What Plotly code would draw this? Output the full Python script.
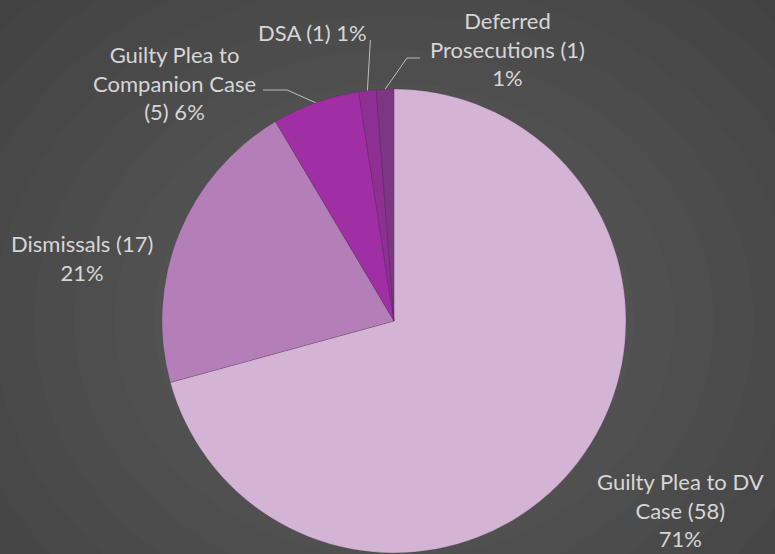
import math
import plotly.graph_objects as go

# ---- data ----
categories = ["Guilty Plea to DV Case", "Dismissals", "Guilty Plea to Companion Case",
              "DSA", "Deferred Prosecutions"]
counts = [58, 17, 5, 1, 1]
percent_labels = ["71%", "21%", "6%", "1%", "1%"]
label_texts = [
    "Guilty Plea to DV<br>Case (58)<br>71%",
    "Dismissals (17)<br>21%",
    "Guilty Plea to<br>Companion Case<br>(5) 6%",
    "DSA (1) 1%",
    "Deferred<br>Prosecutions (1)<br>1%",
]

# ---- styles / layout ----
W, H = 775, 554
colors = ["#d4b4d5", "#b47fb8", "#a02ea5", "#8e3093", "#7c3683"]
CX, CY, R = 394, 321, 232          # pie centre and radius in pixels
text_color = "#d6d6d6"
font_family = "Lato, 'Open Sans', sans-serif"
font_size = 22

def px(x, y):
    return x / W, 1 - y / H

x0, y_top = px(CX - R, CY - R)
x1, y_bot = px(CX + R, CY + R)

fig = go.Figure()
fig.add_trace(go.Pie(
    labels=categories, values=counts, sort=False, direction="clockwise",
    rotation=0, textinfo="none", hoverinfo="label+value+percent",
    marker=dict(colors=colors, line=dict(color="rgba(60,30,60,0.35)", width=0.6)),
    domain=dict(x=[x0, x1], y=[y_bot, y_top]), showlegend=False,
))

# edge points for each slice derived from data
total = sum(counts)
edges = []
cum = 0
for v in counts:
    mid = (cum + v / 2) / total
    cum += v
    ang = 2 * math.pi * mid
    edges.append((CX + R * math.sin(ang), CY - R * math.cos(ang)))

# label positions (pixels), and leader-line elbow points
label_pos = [(680, 510), (82, 258), (174, 83), (312, 32), (507, 49)]
leaders = {
    2: [(263, 90), (287, 90)],
    3: [(None, 40)],
    4: [(420, 58), (407, 58)],
}

shapes = []
# subtle radial background glow
for k in range(12):
    rr = 560 - k * 40
    shapes.append(dict(type="circle", xref="paper", yref="paper", layer="below",
                       x0=(CX - rr) / W, x1=(CX + rr) / W,
                       y0=1 - (CY + rr * 0.85) / H, y1=1 - (CY - rr * 0.85) / H,
                       fillcolor="rgba(255,255,255,0.012)", line=dict(width=0)))

for i, pts in leaders.items():
    ex, ey = edges[i]
    full = []
    for (lx, ly) in pts:
        full.append((ex + 3 if lx is None else lx, ly))
    full.append((ex, ey))
    path = "M " + " L ".join(f"{p[0]/W:.5f},{1 - p[1]/H:.5f}" for p in full)
    shapes.append(dict(type="path", xref="paper", yref="paper", path=path,
                       line=dict(color="#bdbdbd", width=1)))

annotations = []
for txt, (lx, ly) in zip(label_texts, label_pos):
    ax_, ay_ = px(lx, ly)
    annotations.append(dict(x=ax_, y=ay_, xref="paper", yref="paper", text=txt,
                            showarrow=False, xanchor="center", yanchor="middle",
                            align="center",
                            font=dict(color=text_color, size=font_size, family=font_family)))

fig.update_layout(
    width=W, height=H, margin=dict(l=0, r=0, t=0, b=0),
    paper_bgcolor="#404040", plot_bgcolor="#404040",
    shapes=shapes, annotations=annotations,
)
fig.write_html("out.html", config={"displayModeBar": False},
               post_script="document.body.style.margin='0';document.body.style.background='#404040';")
